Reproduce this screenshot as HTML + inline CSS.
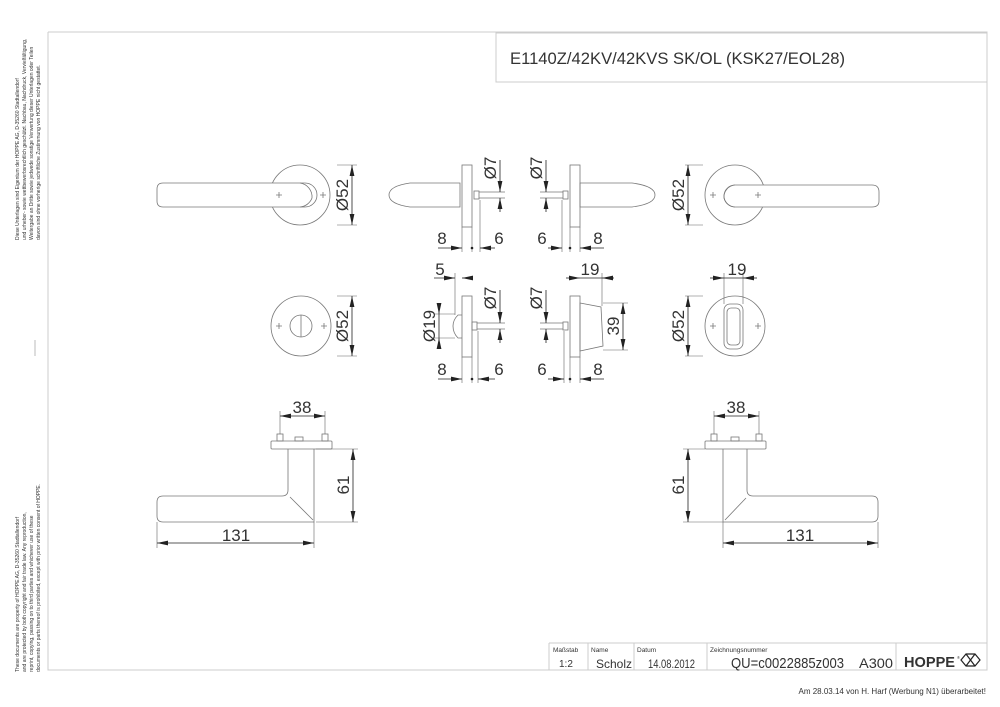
<!DOCTYPE html>
<html><head><meta charset="utf-8"><style>
html,body{margin:0;padding:0;background:#fff;}
svg{display:block;}
text{font-family:"Liberation Sans",sans-serif;fill:#333;}
</style></head><body>
<svg width="1000" height="707" viewBox="0 0 1000 707" xmlns="http://www.w3.org/2000/svg">
<defs>
<marker id="a" markerWidth="11" markerHeight="6" refX="11" refY="3" orient="auto-start-reverse" markerUnits="userSpaceOnUse"><path d="M0,0.6L11,3L0,5.4z" fill="#222"/></marker>
</defs>
<rect width="1000" height="707" fill="#fff"/>
<g fill="none" stroke="#ccc" stroke-width="1">
<path d="M48,32V670H987V32H48"/>
<rect x="496" y="33" width="491" height="49"/>
<path d="M549,643H987M549,643V670M588,643V670M634,643V670M707,643V670M896,643V670"/>
</g>
<line x1="35" y1="340" x2="35" y2="356" stroke="#bbb"/>
<text x="510" y="64" font-size="17" textLength="335" lengthAdjust="spacingAndGlyphs">E1140Z/42KV/42KVS SK/OL (KSK27/EOL28)</text>
<g font-size="5" fill="#777">
<text transform="translate(19,240) rotate(-90)"><tspan x="0" dy="0">Diese Unterlagen sind Eigentum der  HOPPE AG, D-35260 Stadtallendorf</tspan><tspan x="0" dy="7">und urheber- sowie wettbewerbsrechtlich geschützt. Nachbau, Nachdruck, Vervielfältigung,</tspan><tspan x="0" dy="7">Weitergabe an Dritte sowie jedwede sonstige Verwertung dieser Unterlagen oder Teilen</tspan><tspan x="0" dy="7">davon sind ohne vorherige schriftliche Zustimmung von HOPPE nicht gestattet.</tspan></text>
<text transform="translate(19,672) rotate(-90)"><tspan x="0" dy="0">These documents are property of HOPPE AG, D-35260 Stadtallendorf</tspan><tspan x="0" dy="7">and are protected by both copyright and fair trade law. Any reproduction,</tspan><tspan x="0" dy="7">reprint, copying, passing on to third parties and whichever use of these</tspan><tspan x="0" dy="7">documents or parts thereof is prohibited, except with prior written consent of HOPPE.</tspan></text>
</g>

<g fill="none" stroke="#777" stroke-width="0.8">
<circle cx="300" cy="195" r="30"/>
<path d="M163,183H305A12,12 0 0 1 305,207H163Q157,207 157,201V189Q157,183 163,183Z" fill="#fff"/>
<path d="M300,183A14,14 0 0 1 312,198A14,14 0 0 1 300,207" />
<path d="M276,195h6M279,192v6M320,195h6M323,192v6"/>
<circle cx="735" cy="195" r="30"/>
<path d="M735,185H872Q879,185 879,192V201Q879,207 872,207H735A11,11 0 0 1 735,185Z" fill="#fff"/>
<path d="M735,185A12,12 0 0 0 724,198A12,12 0 0 0 735,207"/>
<path d="M710,195h6M713,192v6M755,195h6M758,192v6"/>
<rect x="462" y="165" width="10" height="62"/>
<path d="M460,183H410Q389,186 389,195Q389,204 410,207H460Z"/>
<rect x="474" y="191" width="5" height="8"/>
<path d="M479,192H505M479,198H505"/>
<rect x="570" y="165" width="10" height="62"/>
<path d="M580,183H632Q655,186 655,195Q655,204 632,207H580Z"/>
<rect x="563" y="191" width="5" height="8"/>
<path d="M563,192H540M563,198H540"/>
<circle cx="301" cy="326" r="30"/>
<circle cx="301" cy="326" r="11"/>
<path d="M301,315V337"/>
<path d="M276,326h6M279,323v6M321,326h6M324,323v6"/>
<rect x="462" y="296" width="10" height="61"/>
<path d="M462,315H458Q453,320 453,326Q453,333 458,338H462"/>
<rect x="472" y="322" width="5" height="8"/>
<path d="M477,323H505M477,329H505"/>
<rect x="570" y="296" width="10" height="61"/>
<path d="M580,303L601,307L603,346L580,351Z"/>
<rect x="563" y="322" width="5" height="8"/>
<path d="M563,323H540M563,329H540"/>
<circle cx="735" cy="326" r="30"/>
<rect x="724" y="304" width="19" height="45" rx="6"/>
<rect x="727" y="308" width="13" height="37" rx="4"/>
<path d="M710,326h6M713,323v6M755,326h6M758,323v6"/>
<rect x="271" y="441" width="61" height="8" rx="1"/>
<rect x="277" y="434" width="6" height="7"/><rect x="322" y="434" width="6" height="7"/><rect x="295" y="437" width="8" height="4"/>
<path d="M288,449V490Q288,496 282,496H163Q157,496 157,502V516Q157,522 163,522H314V449"/>
<path d="M290,497L313,520"/>
<rect x="705" y="441" width="61" height="8" rx="1"/>
<rect x="711" y="434" width="6" height="7"/><rect x="756" y="434" width="6" height="7"/><rect x="731" y="437" width="8" height="4"/>
<path d="M747,449V490Q747,496 753,496H872Q878,496 878,502V516Q878,522 872,522H723V449"/>
<path d="M746,498L725,520"/>
</g>

<g stroke="#666" stroke-width="0.6" fill="none">
<path d="M337,165H357M337,225H357M685,165H703M685,225H703"/>
<path d="M337,296H357M337,356H357M685,296H703M685,356H703"/>
<path d="M462,227V252M472,227V252M480,200V252M570,227V252M580,227V252M562,200V252"/>
<path d="M462,357V383M472,357V383M478,331V383M570,357V383M580,357V383M564,331V383"/>
<path d="M455,273V315M435,314H455M435,338H455"/>
<path d="M602,273V306M603,303H628M603,350H628"/>
<path d="M724,273V304M743,273V304"/>
<path d="M280,411V434M325,411V434M714,411V434M759,411V434"/>
<path d="M316,449H358M316,522H358M683,449H705M683,522H723"/>
<path d="M157,522V548M314,522V548M723,522V548M878,522V548"/>
</g>
<g stroke="#222" stroke-width="0.8" fill="none">
<line x1="352" y1="165" x2="352" y2="225" marker-start="url(#a)" marker-end="url(#a)"/>
<line x1="688" y1="165" x2="688" y2="225" marker-start="url(#a)" marker-end="url(#a)"/>
<line x1="352" y1="296" x2="352" y2="356" marker-start="url(#a)" marker-end="url(#a)"/>
<line x1="688" y1="296" x2="688" y2="356" marker-start="url(#a)" marker-end="url(#a)"/>
<line x1="500" y1="160" x2="500" y2="192" marker-end="url(#a)"/><line x1="500" y1="212" x2="500" y2="198" marker-end="url(#a)"/>
<line x1="546" y1="160" x2="546" y2="192" marker-end="url(#a)"/><line x1="546" y1="212" x2="546" y2="198" marker-end="url(#a)"/>
<line x1="500" y1="290" x2="500" y2="323" marker-end="url(#a)"/><line x1="500" y1="343" x2="500" y2="329" marker-end="url(#a)"/>
<line x1="546" y1="290" x2="546" y2="323" marker-end="url(#a)"/><line x1="546" y1="343" x2="546" y2="329" marker-end="url(#a)"/>
<line x1="438" y1="248" x2="462" y2="248" marker-end="url(#a)"/><line x1="495" y1="248" x2="480" y2="248" marker-end="url(#a)"/>
<line x1="548" y1="248" x2="562" y2="248" marker-end="url(#a)"/><line x1="604" y1="248" x2="580" y2="248" marker-end="url(#a)"/>
<line x1="438" y1="379" x2="462" y2="379" marker-end="url(#a)"/><line x1="495" y1="379" x2="478" y2="379" marker-end="url(#a)"/>
<line x1="548" y1="379" x2="564" y2="379" marker-end="url(#a)"/><line x1="604" y1="379" x2="580" y2="379" marker-end="url(#a)"/>
<line x1="434" y1="278" x2="455" y2="278" marker-end="url(#a)"/><line x1="472" y1="278" x2="462" y2="278" marker-end="url(#a)"/>
<line x1="439" y1="304" x2="439" y2="314" marker-end="url(#a)"/><line x1="439" y1="349" x2="439" y2="338" marker-end="url(#a)"/>
<line x1="439" y1="314" x2="439" y2="338"/>
<line x1="566" y1="278" x2="580" y2="278" marker-end="url(#a)"/><line x1="580" y1="278" x2="602" y2="278"/><line x1="614" y1="278" x2="602" y2="278" marker-end="url(#a)"/>
<line x1="710" y1="278" x2="724" y2="278" marker-end="url(#a)"/><line x1="724" y1="278" x2="743" y2="278"/><line x1="757" y1="278" x2="743" y2="278" marker-end="url(#a)"/>
<line x1="623" y1="303" x2="623" y2="350" marker-start="url(#a)" marker-end="url(#a)"/>
<line x1="280" y1="416" x2="325" y2="416" marker-start="url(#a)" marker-end="url(#a)"/>
<line x1="714" y1="416" x2="759" y2="416" marker-start="url(#a)" marker-end="url(#a)"/>
<line x1="353" y1="449" x2="353" y2="522" marker-start="url(#a)" marker-end="url(#a)"/>
<line x1="688" y1="449" x2="688" y2="522" marker-start="url(#a)" marker-end="url(#a)"/>
<line x1="157" y1="543" x2="314" y2="543" marker-start="url(#a)" marker-end="url(#a)"/>
<line x1="723" y1="543" x2="878" y2="543" marker-start="url(#a)" marker-end="url(#a)"/>
</g>
<g fill="#222"><circle cx="472" cy="248" r="1.3"/><circle cx="570" cy="248" r="1.3"/><circle cx="472" cy="379" r="1.3"/><circle cx="570" cy="379" r="1.3"/></g>

<g font-size="17">
<text transform="translate(348,195) rotate(-90)" text-anchor="middle">Ø52</text>
<text transform="translate(684,195) rotate(-90)" text-anchor="middle">Ø52</text>
<text transform="translate(348,326) rotate(-90)" text-anchor="middle">Ø52</text>
<text transform="translate(684,326) rotate(-90)" text-anchor="middle">Ø52</text>
<text transform="translate(496,168) rotate(-90)" text-anchor="middle">Ø7</text>
<text transform="translate(542,168) rotate(-90)" text-anchor="middle">Ø7</text>
<text transform="translate(496,298) rotate(-90)" text-anchor="middle">Ø7</text>
<text transform="translate(542,298) rotate(-90)" text-anchor="middle">Ø7</text>
<text transform="translate(435,326) rotate(-90)" text-anchor="middle">Ø19</text>
<text transform="translate(619,326) rotate(-90)" text-anchor="middle">39</text>
<text transform="translate(349,485) rotate(-90)" text-anchor="middle">61</text>
<text transform="translate(684,485) rotate(-90)" text-anchor="middle">61</text>
<text x="442" y="244" text-anchor="middle">8</text><text x="499" y="244" text-anchor="middle">6</text>
<text x="542" y="244" text-anchor="middle">6</text><text x="598" y="244" text-anchor="middle">8</text>
<text x="442" y="375" text-anchor="middle">8</text><text x="499" y="375" text-anchor="middle">6</text>
<text x="542" y="375" text-anchor="middle">6</text><text x="598" y="375" text-anchor="middle">8</text>
<text x="440" y="275" text-anchor="middle">5</text>
<text x="590" y="275" text-anchor="middle">19</text>
<text x="737" y="275" text-anchor="middle">19</text>
<text x="302" y="413" text-anchor="middle">38</text>
<text x="736" y="413" text-anchor="middle">38</text>
<text x="236" y="541" text-anchor="middle">131</text>
<text x="800" y="541" text-anchor="middle">131</text>
</g>

<g fill="#666" font-size="6.5">
<text x="553" y="652">Maßstab</text><text x="591" y="652">Name</text><text x="637" y="652">Datum</text><text x="710" y="652">Zeichnungsnummer</text>
</g>
<text x="559" y="667" font-size="10">1:2</text>
<text x="596" y="668" font-size="12">Scholz</text>
<text x="648" y="668" font-size="11.5" textLength="47" lengthAdjust="spacingAndGlyphs">14.08.2012</text>
<text x="731" y="668" font-size="15" textLength="113" lengthAdjust="spacingAndGlyphs">QU=c0022885z003</text>
<text x="859" y="668" font-size="14" textLength="34" lengthAdjust="spacingAndGlyphs">A300</text>
<text x="904" y="667" font-size="15" font-weight="bold" fill="#222" textLength="51" lengthAdjust="spacingAndGlyphs">HOPPE</text>
<text x="957" y="659" font-size="4">®</text>
<path d="M966,654L975,654L980,660L975,666L966,666L961,660Z M966,654L975,666 M975,654L966,666" fill="none" stroke="#222" stroke-width="1.2"/>
<text x="986" y="694" font-size="8" text-anchor="end" fill="#555">Am 28.03.14 von H. Harf (Werbung N1) überarbeitet!</text>
</svg>
</body></html>
